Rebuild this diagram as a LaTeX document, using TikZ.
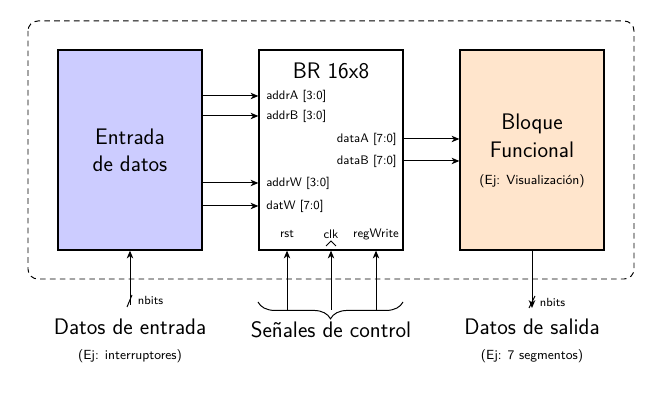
\documentclass[tikz,border=0pt]{standalone}
\usetikzlibrary{decorations.pathreplacing,shadows,arrows.meta}
\newcommand{\grande}{\fontsize{16}{19}\selectfont}
\newcommand{\puerto}{\fontsize{8.8}{10.5}\selectfont}
\newcommand{\ejemplo}{\fontsize{9.4}{11}\selectfont}
\newcommand{\bits}{\fontsize{8.4}{10}\selectfont}
\tikzset{
  bloque/.style={draw, line width=.9pt, minimum width=3.6cm, minimum height=5cm,
    drop shadow={shadow xshift=.6pt, shadow yshift=-.6pt, opacity=.35}},
  senal/.style={font=\sffamily\puerto, inner sep=2pt}
}
\begin{document}
\begin{tikzpicture}[x=0.025cm, y=0.025cm, font=\sffamily, line width=.7pt,
    >={Stealth[length=5.5pt, width=4.6pt, inset=1.6pt]}]
  \useasboundingbox (0,0) rectangle (665,406);

  % marco de la placa
  \draw[dash pattern=on 4pt off 3pt, rounded corners=7pt] (28,385) rectangle (634,127);

  % bloques
  \node[bloque, fill=blue!20, align=center, font=\sffamily\grande] (entrada) at (130,256) {Entrada\\de datos};
  \node[bloque, fill=white] (br) at (331,256) {};
  \node[bloque, fill=orange!20] (func) at (532,256) {};

  \node[font=\sffamily\grande] (titulo) at (331,335) {BR 16x8};
  \node[align=center, font=\sffamily\grande] (funcnom) at (532,270) {Bloque\\[1pt]Funcional};
  \node[font=\sffamily\ejemplo] (funcej) at (532,225) {(Ej: Visualización)};

  % puertos del banco de registros
  \node[senal, anchor=west] (addrA) at (263,310) {addrA [3:0]};
  \node[senal, anchor=west] (addrB) at (263,290) {addrB [3:0]};
  \node[senal, anchor=west] (addrW) at (263,223) {addrW [3:0]};
  \node[senal, anchor=west] (datW) at (263,200) {datW [7:0]};
  \node[senal, anchor=east] (dataA) at (400,267) {dataA [7:0]};
  \node[senal, anchor=east] (dataB) at (400,245) {dataB [7:0]};
  \node[senal] (rst) at (287,172) {rst};
  \node[senal] (clk) at (331,172) {clk};
  \node[senal] (regW) at (376,172) {regWrite};
  \draw (326,160)--(331,165)--(336,160);

  % conexiones internas
  \foreach \p in {addrA, addrB, addrW, datW}
    \draw[->] (entrada.east |- \p) -- (br.west |- \p);
  \foreach \p in {dataA, dataB}
    \draw[->] (br.east |- \p) -- (func.west |- \p);

  % senales de control
  \draw[decorate, decoration={brace, mirror, amplitude=12pt}] (258,104) -- (403,104);
  \foreach \p/\x in {rst/287, clk/331, regW/376}{
    \coordinate (c\p) at (\x,96);
    \draw[->] (c\p) -- (c\p |- br.south);
  }
  \node[font=\sffamily\grande] (control) at (331,76) {Señales de control};

  % entrada
  \coordinate (ent) at (130,101);
  \draw[->] (ent) -- (entrada.south);
  \draw (127,99) -- (132,111);
  \node[font=\sffamily\bits, anchor=west, inner sep=1pt] (nbitsent) at (136,106) {nbits};
  \node[font=\sffamily\grande] (datent) at (130,79) {Datos de entrada};
  \node[font=\sffamily\ejemplo] (ejent) at (130,50) {(Ej: interruptores)};

  % salida
  \coordinate (sal) at (532,98);
  \draw[->] (func.south) -- (sal);
  \draw (529,98) -- (535,110);
  \node[font=\sffamily\bits, anchor=west, inner sep=1pt] (nbitssal) at (538,104) {nbits};
  \node[font=\sffamily\grande] (datsal) at (532,79) {Datos de salida};
  \node[font=\sffamily\ejemplo] (ejsal) at (532,50) {(Ej: 7 segmentos)};
\end{tikzpicture}
\end{document}
